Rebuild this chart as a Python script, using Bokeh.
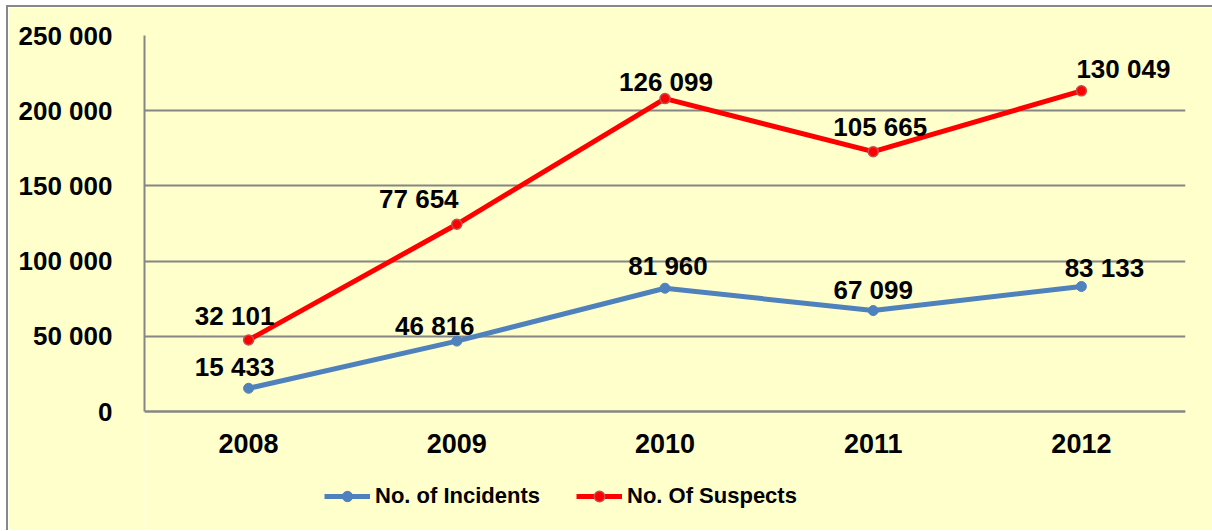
from bokeh.plotting import figure
from bokeh.models import ColumnDataSource, Legend, LegendItem, Range1d, FixedTicker
from bokeh.embed import file_html
from bokeh.resources import INLINE
from bokeh.core.properties import value

# ---- data ----
years = ["2008", "2009", "2010", "2011", "2012"]
incidents = [15433, 46816, 81960, 67099, 83133]
suspects = [32101, 77654, 126099, 105665, 130049]
y_ticks = [0, 50000, 100000, 150000, 200000, 250000]
y_tick_labels = ["0", "50 000", "100 000", "150 000", "200 000", "250 000"]

# label placement (screen px offsets, style only)
inc_dx = [-14, -22, 3, 0, 23]
inc_dy = [-21, -15, -22, -21, -18]
sus_dx = [-14, -38, 1, 7, 42]
sus_dy = [-24, -25, -17, -25, -22]

BG = "#FFFFCC"
GRID = "#868686"
BLUE = "#4F81BD"
RED = "#FF0000"
FONT = "Liberation Sans"

# layout: the value axis (0..250 000) takes 376 px; the frame extends below 0
# so the category labels and legend can sit inside it.
PLOT_PX = 376
EXTRA_PX = 119
Y_MAX = y_ticks[-1]
Y_MIN = -Y_MAX * EXTRA_PX / PLOT_PX


def fmt(v):
    return f"{v:,}".replace(",", " ")


stacked = [i + s for i, s in zip(incidents, suspects)]

src_inc = ColumnDataSource(dict(x=years, y=incidents, lab=[fmt(v) for v in incidents],
                                dx=inc_dx, dy=inc_dy))
src_sus = ColumnDataSource(dict(x=years, y=stacked, lab=[fmt(v) for v in suspects],
                                dx=sus_dx, dy=sus_dy))

p = figure(frame_width=1041, frame_height=PLOT_PX + EXTRA_PX, x_range=years,
           y_range=Range1d(Y_MIN, Y_MAX),
           output_backend="svg", toolbar_location=None,
           min_border_left=136, min_border_right=27, min_border_top=28, min_border_bottom=0)

p.background_fill_color = BG
p.border_fill_color = BG
p.outline_line_color = None
p.styles = {"margin-left": "6px", "margin-top": "5px",
            "border-left": "2px solid #888888", "border-top": "2px solid #888888"}

# grid
p.xgrid.grid_line_color = None
p.ygrid.grid_line_color = GRID
p.ygrid.grid_line_width = 2
p.ygrid.ticker = FixedTicker(ticks=y_ticks)

# axes
p.yaxis.ticker = FixedTicker(ticks=y_ticks)
p.yaxis.major_label_overrides = {t: l for t, l in zip(y_ticks, y_tick_labels)}
p.yaxis.bounds = (0, Y_MAX)
p.xaxis.fixed_location = 0
for ax in (p.xaxis[0], p.yaxis[0]):
    ax.axis_line_color = GRID
    ax.axis_line_width = 2
    ax.major_tick_line_color = None
    ax.minor_tick_line_color = None
    ax.major_label_text_font = FONT
    ax.major_label_text_font_style = "bold"
    ax.major_label_text_font_size = "26px"
    ax.major_label_text_color = "black"
p.xaxis.major_label_text_font_size = "27px"
p.yaxis.major_label_standoff = 26
p.xaxis.major_label_standoff = 16
p.x_range.range_padding = 0

# lines
l_inc = p.line("x", "y", source=src_inc, line_color=BLUE, line_width=5)
m_inc = p.scatter("x", "y", source=src_inc, size=10, fill_color=BLUE, line_color=BLUE)
l_sus = p.line("x", "y", source=src_sus, line_color=RED, line_width=5)
m_sus = p.scatter("x", "y", source=src_sus, size=10, fill_color=RED, line_color="#C0504D",
                  line_width=1.5)

# data labels
for src in (src_inc, src_sus):
    p.text("x", "y", text="lab", source=src, x_offset="dx", y_offset="dy",
           text_align="center", text_baseline="middle",
           text_font=value(FONT), text_font_style="bold", text_font_size="26px",
           text_color="black")

legend = Legend(items=[LegendItem(label="No. of Incidents", renderers=[l_inc, m_inc]),
                       LegendItem(label="No. Of Suspects", renderers=[l_sus, m_sus])],
                orientation="horizontal", location=(180, 21),
                glyph_width=46, glyph_height=26, label_height=26, label_standoff=5,
                spacing=36, padding=0, margin=0, border_line_color=None,
                background_fill_alpha=0,
                label_text_font=FONT, label_text_font_style="bold",
                label_text_font_size="22px", label_text_color="black")
p.add_layout(legend)

open("out.html", "w").write(file_html(p, INLINE))
